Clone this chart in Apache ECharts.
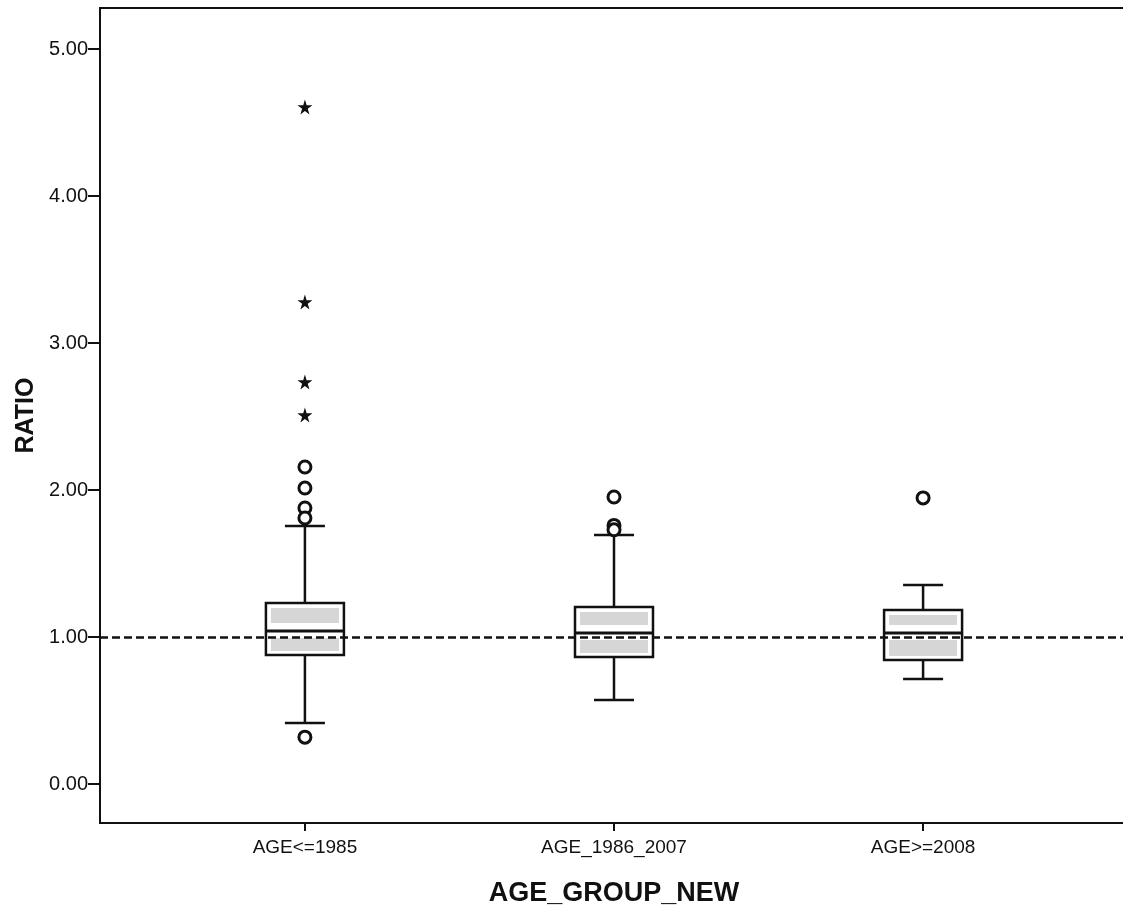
<!DOCTYPE html>
<html>
<head>
<meta charset="utf-8">
<script src="https://cdn.jsdelivr.net/npm/echarts@6/dist/echarts.min.js"></script>
<style>
html,body{margin:0;padding:0;background:#fff;}
#chart{width:1123px;height:915px;}
</style>
</head>
<body>
<div id="chart"></div>
<script>
// ---- data ----
const categories = ['AGE<=1985', 'AGE_1986_2007', 'AGE>=2008'];
// box statistics per category
const lowerWhisker = [0.416, 0.573, 0.716];
const q1Values     = [0.879, 0.865, 0.845];
const medians      = [1.042, 1.028, 1.028];
const q3Values     = [1.232, 1.205, 1.184];
const upperWhisker = [1.756, 1.695, 1.355];
// outliers (circles) and extremes (stars) per category
const outliers = [[2.157, 2.014, 1.878, 1.81, 0.32], [1.953, 1.76, 1.73], [1.947]];
const extremes = [[4.606, 3.28, 2.736, 2.511], [], []];
const yTicks = [0, 1, 2, 3, 4, 5];
const referenceLine = 1.0;
const xTitle = 'AGE_GROUP_NEW';
const yTitle = 'RATIO';

// ---- build series data ----
const catPos = categories.map((c, i) => i + 1);
const boxData = categories.map((c, i) => [catPos[i], lowerWhisker[i], q1Values[i], medians[i], q3Values[i], upperWhisker[i]]);
const outlierData = [];
outliers.forEach((arr, i) => arr.forEach(v => outlierData.push([catPos[i], v])));
const extremeData = [];
extremes.forEach((arr, i) => arr.forEach(v => extremeData.push([catPos[i], v])));

const ink = '#111111';
const font = 'Liberation Sans, Arial, sans-serif';
const starPath = 'path://M50,0 L61,35 L98,35 L68,57 L79,91 L50,70 L21,91 L32,57 L2,35 L39,35 Z';

const chart = echarts.init(document.getElementById('chart'));
chart.setOption({
  animation: false,
  backgroundColor: '#ffffff',
  grid: {left: 100, top: 8, width: 1028, height: 815, outerBoundsMode: 'none', containLabel: false,
         show: true, borderColor: ink, borderWidth: 2, backgroundColor: 'transparent'},
  xAxis: {
    type: 'value',
    min: 0.337, max: 3.663,
    name: xTitle, nameLocation: 'middle', nameGap: 57,
    nameTextStyle: {fontFamily: font, fontWeight: 'bold', fontSize: 27, color: ink},
    axisLine: {show: true, onZero: false, lineStyle: {color: ink, width: 2}},
    axisTick: {show: true, customValues: catPos, length: 8, lineStyle: {color: ink, width: 2}},
    axisLabel: {customValues: catPos, margin: 15, fontFamily: font, fontSize: 19, color: ink,
      formatter: v => categories[Math.round(v) - 1] || ''},
    splitLine: {show: false}
  },
  yAxis: {
    type: 'value',
    min: -0.264, max: 5.279,
    name: yTitle, nameLocation: 'middle', nameGap: 60, nameRotate: 90,
    nameTextStyle: {fontFamily: font, fontWeight: 'bold', fontSize: 25, color: ink},
    axisLine: {show: true, onZero: false, lineStyle: {color: ink, width: 2}},
    axisTick: {show: true, customValues: yTicks, length: 12, lineStyle: {color: ink, width: 2}},
    axisLabel: {customValues: yTicks, margin: 12, fontFamily: font, fontSize: 20, color: ink,
      formatter: v => Number(v).toFixed(2)},
    splitLine: {show: false}
  },
  series: [
    {
      type: 'custom',
      data: boxData,
      encode: {x: 0, y: [1, 2, 3, 4, 5]},
      z: 2,
      renderItem: function (params, api) {
        const x = api.value(0);
        const low = api.coord([x, api.value(1)]);
        const q1 = api.coord([x, api.value(2)]);
        const med = api.coord([x, api.value(3)]);
        const q3 = api.coord([x, api.value(4)]);
        const high = api.coord([x, api.value(5)]);
        const cx = low[0], hw = 39, cw = 20;
        const ls = {stroke: ink, lineWidth: 2.5};
        return {
          type: 'group',
          children: [
            {type: 'line', shape: {x1: cx, y1: high[1], x2: cx, y2: q3[1]}, style: ls},
            {type: 'line', shape: {x1: cx, y1: q1[1], x2: cx, y2: low[1]}, style: ls},
            {type: 'line', shape: {x1: cx - cw, y1: high[1], x2: cx + cw, y2: high[1]}, style: ls},
            {type: 'line', shape: {x1: cx - cw, y1: low[1], x2: cx + cw, y2: low[1]}, style: ls},
            {type: 'rect', shape: {x: cx - hw, y: q3[1], width: 2 * hw, height: q1[1] - q3[1]}, style: {fill: '#ffffff', stroke: ink, lineWidth: 2.5}},
            {type: 'rect', shape: {x: cx - hw + 5, y: q3[1] + 5, width: 2 * hw - 10, height: Math.max(0, med[1] - 8 - (q3[1] + 5))}, style: {fill: '#d6d6d6'}},
            {type: 'rect', shape: {x: cx - hw + 5, y: med[1] + 7, width: 2 * hw - 10, height: Math.max(0, q1[1] - 4 - (med[1] + 7))}, style: {fill: '#d6d6d6'}},
            {type: 'line', shape: {x1: cx - hw, y1: med[1], x2: cx + hw, y2: med[1]}, style: {stroke: ink, lineWidth: 3}}
          ]
        };
      },
      markLine: {
        silent: true, symbol: 'none', z: 5,
        label: {show: false},
        lineStyle: {color: ink, width: 2.5, type: [8, 4], opacity: 1},
        data: [{yAxis: referenceLine}]
      }
    },
    {
      type: 'scatter',
      data: outlierData,
      symbol: 'circle', symbolSize: 12,
      itemStyle: {color: '#ffffff', borderColor: ink, borderWidth: 3, opacity: 1},
      z: 3
    },
    {
      type: 'scatter',
      data: extremeData,
      symbol: starPath, symbolSize: 15,
      itemStyle: {color: ink, opacity: 1},
      z: 3
    }
  ]
});
</script>
</body>
</html>
